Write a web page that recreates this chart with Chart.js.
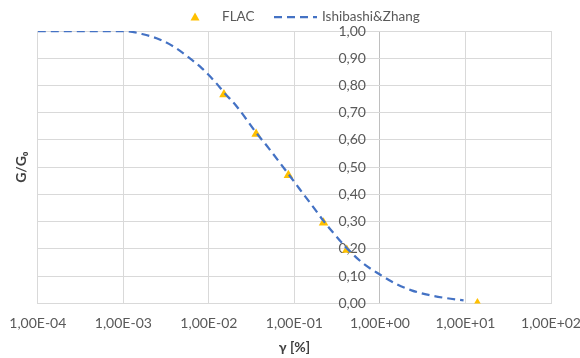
<!DOCTYPE html>
<html>
<head>
<meta charset="utf-8">
<script src="https://cdn.jsdelivr.net/npm/chart.js@4.4.1/dist/chart.umd.min.js"></script>
<style>
  html, body { margin: 0; padding: 0; background: #fff; }
  #wrap { width: 580px; height: 358px; position: relative; }
</style>
</head>
<body>
<div id="wrap"><canvas id="myChart"></canvas></div>
<script>
(function () {
  "use strict";

  // FLAC results (strain in %, G/G0)
  const flacStrain = [0.015, 0.0357, 0.085, 0.219, 0.41, 13.8];
  const flacRatio = [0.767, 0.622, 0.470, 0.296, 0.196, 0.0];

  // Ishibashi & Zhang reduction curve
  const curveStrain = [0.0001, 0.001, 0.0017, 0.0027, 0.004, 0.0057, 0.0083, 0.0117, 0.015,
    0.0213, 0.0357, 0.05, 0.085, 0.115, 0.163, 0.219, 0.28, 0.41, 0.63,
    1.0, 1.53, 2.34, 3.7, 5.8, 9.5];
  const curveRatio = [1.0, 1.0, 0.988, 0.968, 0.94, 0.905, 0.863, 0.815, 0.775,
    0.722, 0.627, 0.57, 0.475, 0.42, 0.357, 0.303, 0.262, 0.203, 0.148,
    0.106, 0.072, 0.048, 0.031, 0.02, 0.011];

  // axis ticks
  const xTicks = [1e-4, 1e-3, 1e-2, 1e-1, 1e0, 1e1, 1e2];
  const xTickLabels = ["1,00E-04", "1,00E-03", "1,00E-02", "1,00E-01", "1,00E+00", "1,00E+01", "1,00E+02"];
  const yTickLabels = ["0,00", "0,10", "0,20", "0,30", "0,40", "0,50", "0,60", "0,70", "0,80", "0,90", "1,00"];

  const FONT = "Lato, 'Open Sans', sans-serif";
  const GRID = "#d9d9d9";
  const TEXT = "#595959";

  function toPoints(xs, ys) {
    return xs.map(function (x, i) { return { x: x, y: ys[i] }; });
  }

  // legend drawn by hand so the triangle and dashed line sit like in the workbook
  const legendPlugin = {
    id: "sheetLegend",
    afterDraw: function (chart) {
      const c = chart.ctx;
      const y = 17;
      c.save();
      c.font = "13.5px " + FONT;
      c.textBaseline = "middle";

      c.fillStyle = "#FFC000";
      c.beginPath();
      c.moveTo(195, y - 4.5);
      c.lineTo(199.5, y + 3.5);
      c.lineTo(190.5, y + 3.5);
      c.closePath();
      c.fill();

      c.fillStyle = TEXT;
      c.fillText("FLAC", 222, y);

      c.strokeStyle = "#4472C4";
      c.lineWidth = 2.25;
      c.setLineDash([8, 5]);
      c.beginPath();
      c.moveTo(274, y);
      c.lineTo(317, y);
      c.stroke();
      c.setLineDash([]);

      c.fillText("Ishibashi&Zhang", 322, y);
      c.restore();
    },
  };

  const ctx = document.getElementById("myChart").getContext("2d");
  const myChart = new Chart(ctx, {
    type: "scatter",
    data: {
      datasets: [
        {
          label: "FLAC",
          data: toPoints(flacStrain, flacRatio),
          yAxisID: "y",
          pointStyle: "triangle",
          pointRadius: 5.5,
          pointBackgroundColor: "#FFC000",
          pointBorderWidth: 0,
          showLine: false,
          order: 1,
        },
        {
          label: "Ishibashi&Zhang",
          data: toPoints(curveStrain, curveRatio),
          yAxisID: "y",
          showLine: true,
          borderColor: "#4472C4",
          borderWidth: 2.25,
          borderDash: [8, 5],
          pointRadius: 0,
          cubicInterpolationMode: "monotone",
          fill: false,
          order: 0,
        },
      ],
    },
    options: {
      responsive: true,
      maintainAspectRatio: false,
      animation: false,
      layout: {
        padding: { left: 13, right: 29, top: 31, bottom: 2 },
      },
      plugins: {
        legend: { display: false },
        tooltip: { enabled: false },
      },
      scales: {
        x: {
          type: "logarithmic",
          min: 1e-4,
          max: 1e2,
          afterBuildTicks: function (scale) {
            scale.ticks = xTicks.map(function (v) { return { value: v }; });
          },
          // end labels may hang over the plot edges; layout padding handles it
          afterFit: function (scale) {
            scale.paddingLeft = 0;
            scale.paddingRight = 0;
          },
          grid: {
            drawTicks: false,
            color: function (c) {
              return c.tick && c.tick.value === 1 ? "#bfbfbf" : GRID;
            },
          },
          border: { color: GRID },
          ticks: {
            autoSkip: false,
            maxRotation: 0,
            padding: 12,
            color: TEXT,
            font: { family: FONT, size: 14 },
            callback: function (value, index) {
              return xTickLabels[index];
            },
          },
          title: {
            display: true,
            text: "γ [%]",
            color: "#404040",
            font: { family: FONT, size: 14, weight: "bold" },
            padding: { top: -5, bottom: 0 },
          },
        },
        y: {
          type: "linear",
          // value axis crosses at 1E+00; labels sit a little to its left
          position: { x: 0.686 },
          min: 0,
          max: 1,
          grid: { color: GRID, drawTicks: false },
          border: { display: false },
          ticks: {
            stepSize: 0.1,
            color: TEXT,
            font: { family: FONT, size: 14 },
            callback: function (value, index) {
              return yTickLabels[index];
            },
          },
        },
        yTitle: {
          type: "linear",
          position: "left",
          grid: { display: false, drawTicks: false },
          border: { display: false },
          ticks: { display: false },
          title: {
            display: true,
            text: "G/G₀",
            color: "#404040",
            font: { family: FONT, size: 14, weight: "bold" },
            padding: { top: 0, bottom: 8 },
          },
        },
      },
    },
    plugins: [legendPlugin],
  });
})();
</script>
</body>
</html>
